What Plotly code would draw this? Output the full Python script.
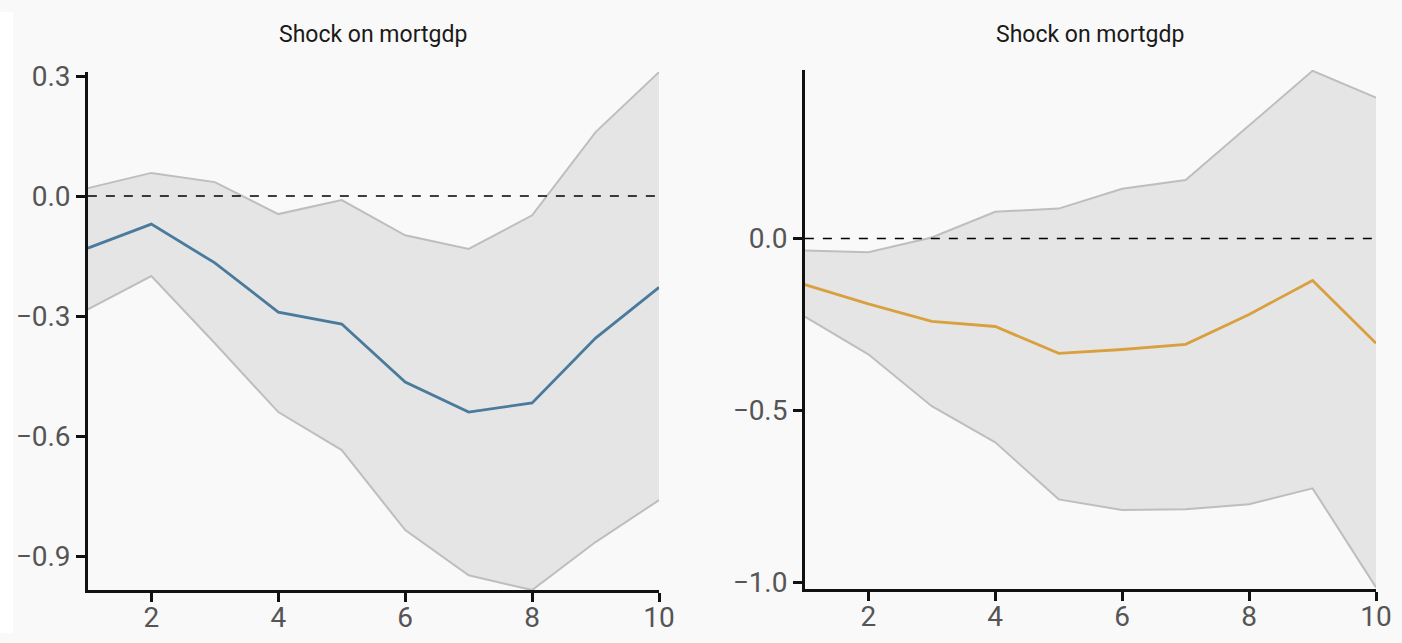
import plotly.graph_objects as go
from plotly.subplots import make_subplots

horizon = [1, 2, 3, 4, 5, 6, 7, 8, 9, 10]

left_mean = [-0.13, -0.07, -0.167, -0.29, -0.32, -0.465, -0.54, -0.517, -0.355, -0.228]
left_upper = [0.02, 0.058, 0.035, -0.045, -0.01, -0.098, -0.132, -0.048, 0.16, 0.31]
left_lower = [-0.283, -0.2, -0.368, -0.54, -0.635, -0.835, -0.948, -0.985, -0.865, -0.76]

right_mean = [-0.134, -0.19, -0.241, -0.256, -0.334, -0.323, -0.308, -0.221, -0.122, -0.305]
right_upper = [-0.035, -0.04, 0.003, 0.078, 0.087, 0.145, 0.17, 0.33, 0.488, 0.41]
right_lower = [-0.227, -0.337, -0.488, -0.593, -0.759, -0.79, -0.788, -0.773, -0.727, -1.015]

left_yticks = [0.3, 0.0, -0.3, -0.6, -0.9]
right_yticks = [0.0, -0.5, -1.0]
xticks = [2, 4, 6, 8, 10]
titles = ["Shock on mortgdp", "Shock on mortgdp"]

W, H = 1402, 643
# observed mapping of figure pixels to the photographed picture
SX, SY, OY = 0.990, 0.964, 12.0


def fx(px):
    return min(max(px / SX / W, 0.0), 1.0)


def fy(py):
    return min(max(1 - (py - OY) / SY / H, 0.0), 1.0)


band_fill = "#e5e5e5"
band_line = "#bebebe"
bg = "#f9f9f9"

fig = make_subplots(rows=1, cols=2)

panels = [
    (1, left_mean, left_upper, left_lower, "#4a7a9c", left_yticks, [-0.985, 0.31]),
    (2, right_mean, right_upper, right_lower, "#d9a03f", right_yticks, [-1.02, 0.49]),
]

for col, mean, upper, lower, color, yt, yr in panels:
    fig.add_trace(go.Scatter(x=horizon, y=lower, mode="lines",
                             line=dict(color=band_line, width=2),
                             showlegend=False, hoverinfo="skip"), row=1, col=col)
    fig.add_trace(go.Scatter(x=horizon, y=upper, mode="lines", fill="tonexty",
                             fillcolor=band_fill,
                             line=dict(color=band_line, width=2),
                             showlegend=False, hoverinfo="skip"), row=1, col=col)
    fig.add_trace(go.Scatter(x=[horizon[0], horizon[-1]], y=[0, 0], mode="lines",
                             line=dict(color="black", width=1.5, dash="dash"),
                             showlegend=False, hoverinfo="skip"), row=1, col=col)
    fig.add_trace(go.Scatter(x=horizon, y=mean, mode="lines",
                             line=dict(color=color, width=2.8),
                             showlegend=False), row=1, col=col)
    fig.update_yaxes(range=yr, tickvals=yt, tickformat=".1f", row=1, col=col)

axis_common = dict(showline=True, linecolor="#111111", linewidth=2.5, ticks="outside",
                   ticklen=9, tickwidth=2.5, tickcolor="#111111", showgrid=False,
                   zeroline=False, tickfont=dict(family="Roboto", size=28, color="#555555"))
fig.update_xaxes(range=[1, 10], tickvals=xticks, ticklabelstandoff=-8, **axis_common)
fig.update_yaxes(ticklabelstandoff=0, **axis_common)

fig.update_layout(
    xaxis=dict(domain=[fx(88), fx(660)], anchor="y"),
    xaxis2=dict(domain=[fx(806), fx(1378)], anchor="y2"),
    yaxis=dict(domain=[fy(589), fy(72)]),
    yaxis2=dict(domain=[fy(588), fy(70)]),
)

# white strip on the left edge, light background elsewhere
fig.add_shape(type="rect", xref="paper", yref="paper", x0=0, x1=fx(13),
              y0=0, y1=1, fillcolor="white", line=dict(width=0), layer="below")

for i, t in enumerate(titles):
    dom = [88, 660] if i == 0 else [806, 1378]
    fig.add_annotation(text=t, x=fx((dom[0] + dom[1]) / 2), y=fy(34), xref="paper",
                       yref="paper", showarrow=False, xanchor="center", yanchor="middle",
                       font=dict(family="Roboto", size=23, color="#1a1a1a"))

fig.update_layout(width=W, height=H, margin=dict(l=0, r=0, t=0, b=0, pad=0),
                  paper_bgcolor=bg, plot_bgcolor="rgba(0,0,0,0)",
                  showlegend=False)

page_bg = ("linear-gradient(#fff,#fff) left top / 100% 5px no-repeat,"
           "linear-gradient(#fff,#fff) left top / 13px 100% no-repeat,"
           "linear-gradient(#fff,#fff) right top / 5px 100% no-repeat," + bg)

fig.write_html(
    "out.html",
    config={"displayModeBar": False},
    post_script=(
        "document.documentElement.style.margin='0';"
        "document.body.style.margin='0';"
        "document.body.style.overflow='hidden';"
        "document.documentElement.style.overflow='hidden';"
        "document.documentElement.style.background='" + page_bg + "';"
        "document.body.style.background='transparent';"
    ),
)
